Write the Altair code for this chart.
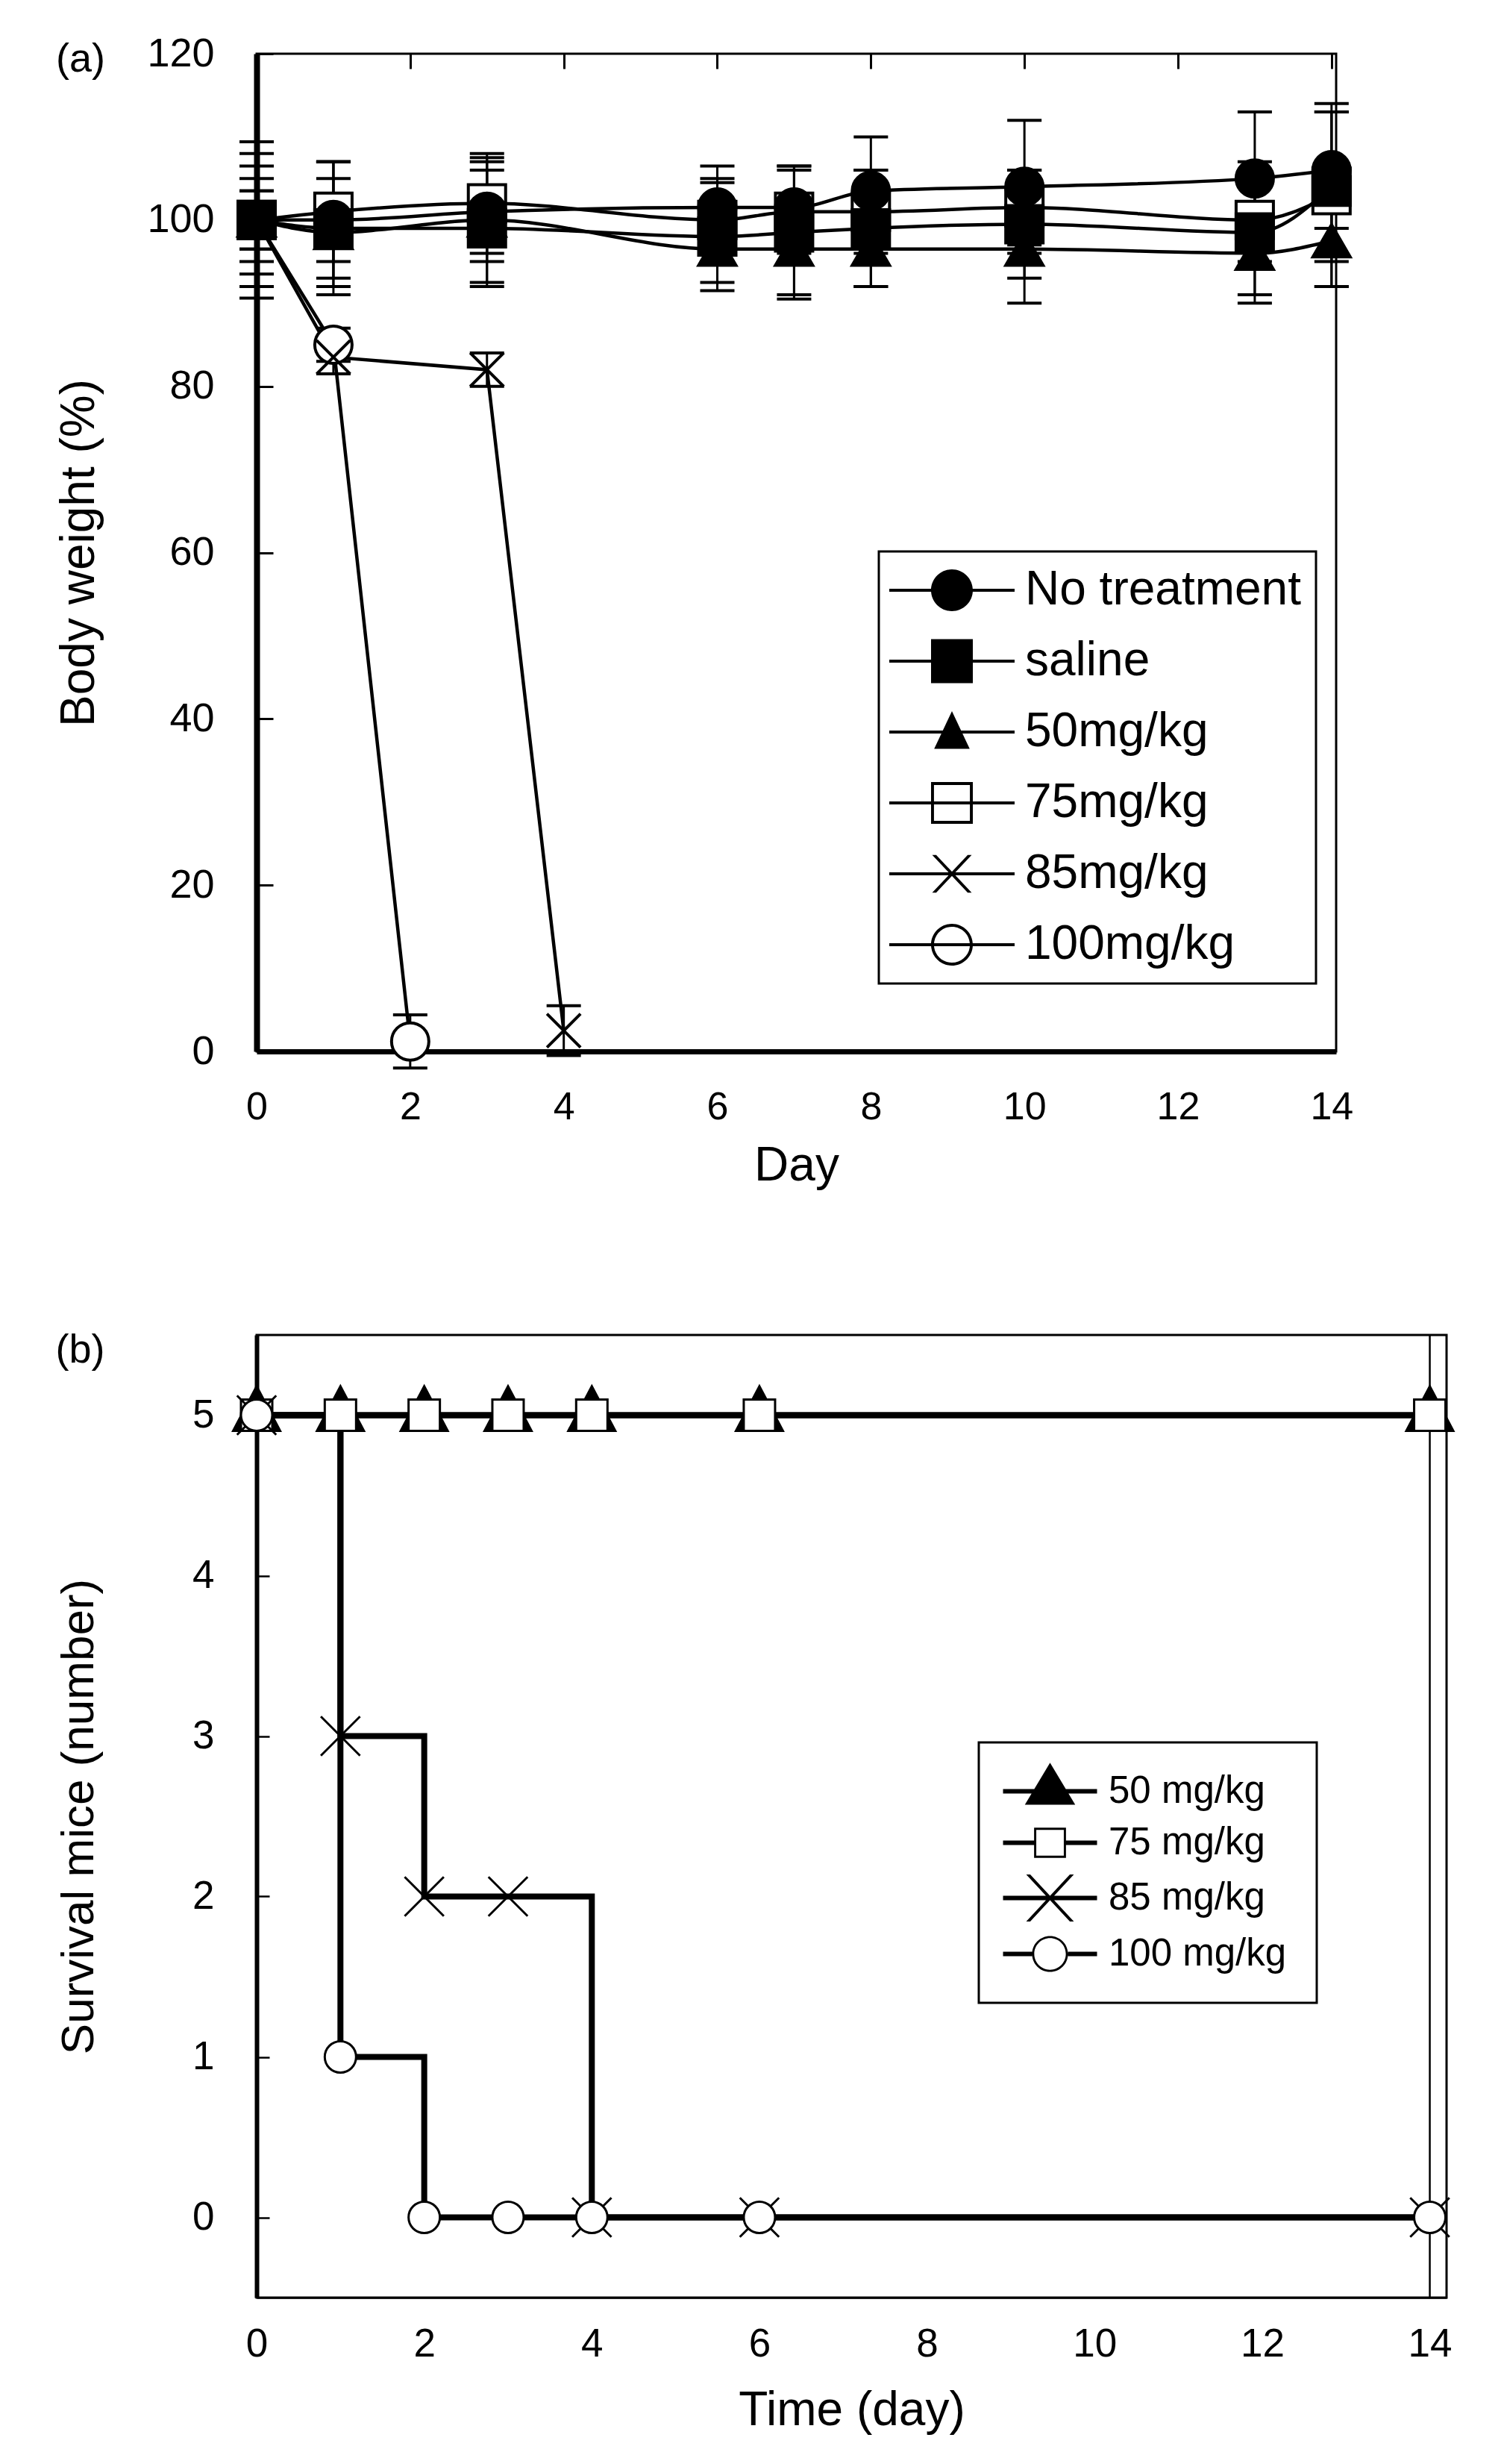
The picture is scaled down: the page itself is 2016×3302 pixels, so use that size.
import altair as alt
import pandas as pd

FONT = "Liberation Sans"

# ---------------- panel (a): body weight ----------------
series_a = ["No treatment", "saline", "50mg/kg", "75mg/kg", "85mg/kg", "100mg/kg"]
days_a = [0, 1, 3, 6, 7, 8, 10, 13, 14]
no_treat = [100, 100, 101, 101.5, 101.5, 103.5, 104, 105, 106]
no_treat_sd = [9.4, 7, 6, 5, 5, 6.5, 8, 8, 7]
saline = [100, 99, 99, 98, 98.5, 99, 99.5, 98.5, 104]
saline_sd = [8, 8, 7, 6.5, 8, 7, 6.5, 8.5, 9]
mg50 = [100, 98.5, 100, 96.5, 96.5, 96.5, 96.5, 96, 97.5]
mg50_sd = [6.5, 6.5, 7.5, 4, 5.5, 4.5, 6.5, 5, 5.5]
mg75 = [100, 101, 102, 100, 101, 101, 101.5, 100, 103]
mg75_sd = [5, 6, 6, 5, 5, 5, 4.5, 5, 11]
days_85 = [0, 1, 3, 4]
mg85 = [100, 83.5, 82, 2.5]
mg85_sd = [3.5, 2, 2, 3]
days_100 = [0, 1, 2]
mg100 = [100, 85, 1.2]
mg100_sd = [3.5, 2, 3.2]

survivors_a = ["No treatment", "saline", "50mg/kg", "75mg/kg"]
dead_a = ["85mg/kg", "100mg/kg"]
draw_order_a = ["100mg/kg", "85mg/kg", "75mg/kg", "50mg/kg", "No treatment", "saline"]
tables_a = {
    "No treatment": (days_a, no_treat, no_treat_sd),
    "saline": (days_a, saline, saline_sd),
    "50mg/kg": (days_a, mg50, mg50_sd),
    "75mg/kg": (days_a, mg75, mg75_sd),
    "85mg/kg": (days_85, mg85, mg85_sd),
    "100mg/kg": (days_100, mg100, mg100_sd),
}
rows = []
for s in draw_order_a:
    d, v, e = tables_a[s]
    for di, vi, ei in zip(d, v, e):
        rows.append({"series": s, "day": di, "weight": vi, "lo": vi - ei, "hi": vi + ei})
df_a = pd.DataFrame(rows)

X_PATH_A = "M-0.9,-0.9L0.9,0.9M-0.9,0.9L0.9,-0.9"
shapes_a = ["circle", "square", "triangle-up", "square", X_PATH_A, "circle"]
fills_a = ["black", "black", "black", "white", "white", "white"]

# legend glyphs: line + marker, drawn as filled outlines (nonzero winding makes the holes)
BAR_A = "M-3,-0.07H3V0.07H-3Z"
legend_paths_a = [
    BAR_A + "M-1,0A1,1 0 1,1 1,0A1,1 0 1,1 -1,0Z",
    BAR_A + "M-1,-1.05H1V1.05H-1Z",
    BAR_A + "M0,-1L0.85,0.8H-0.85Z",
    BAR_A + "M-1,-1H1V1H-1ZM-0.86,-0.86V0.86H0.86V-0.86Z",
    BAR_A + "M-0.945,-0.9H-0.755L0.945,0.9H0.755ZM-0.945,0.9L0.755,-0.9H0.945L-0.755,0.9Z",
    BAR_A + "M-1,0A1,1 0 1,1 1,0A1,1 0 1,1 -1,0ZM-0.86,0A0.86,0.86 0 1,0 0.86,0A0.86,0.86 0 1,0 -0.86,0Z",
]
legend_fill_a = ["black"] * 6

axis_xa = alt.Axis(values=list(range(0, 15, 2)), ticks=False, tickSize=0, grid=True,
                   gridDash=[20, 5000], gridColor="black", gridWidth=3, gridOpacity=1,
                   domainColor="black", domainWidth=7, labelFontSize=52, labelPadding=49,
                   labelFlush=False, labelOverlap=False, titleFontSize=64, titlePadding=21)
axis_ya = alt.Axis(values=list(range(0, 121, 20)), ticks=False, tickSize=0, grid=True,
                   gridDash=[22, 5000], gridColor="black", gridWidth=3, gridOpacity=1,
                   domainColor="black", domainWidth=8, labelFontSize=54, labelPadding=57,
                   labelOverlap=False, titleFontSize=64, titlePadding=58)
xs_a = alt.Scale(domain=[0, 14.06], nice=False, zero=False)
ys_a = alt.Scale(domain=[0, 120], nice=False)


def xa(field="day"):
    return alt.X(f"{field}:Q", scale=xs_a, axis=axis_xa, title="Day")


def ya(field):
    return alt.Y(f"{field}:Q", scale=ys_a, axis=axis_ya, title="Body weight (%)")


base_a = alt.Chart(df_a)
lines_smooth = base_a.transform_filter(alt.FieldOneOfPredicate(field="series", oneOf=survivors_a)).mark_line(
    interpolate="monotone", strokeWidth=4.5, color="black").encode(x=xa(), y=ya("weight"), detail="series:N")
lines_lin = base_a.transform_filter(alt.FieldOneOfPredicate(field="series", oneOf=dead_a)).mark_line(
    strokeWidth=4.5, color="black").encode(x=xa(), y=ya("weight"), detail="series:N")
stems = base_a.mark_rule(strokeWidth=3, color="black").encode(x=xa(), y=ya("lo"), y2="hi:Q")
caps_lo = base_a.mark_tick(orient="horizontal", size=46, thickness=4, color="black", opacity=1).encode(
    x=xa(), y=ya("lo"))
caps_hi = base_a.mark_tick(orient="horizontal", size=46, thickness=4, color="black", opacity=1).encode(
    x=xa(), y=ya("hi"))
points_a = base_a.mark_point(filled=True, stroke="black", strokeWidth=4, opacity=1, size=2500).encode(
    x=xa(), y=ya("weight"),
    shape=alt.Shape("series:N", scale=alt.Scale(domain=series_a, range=shapes_a), legend=None),
    fill=alt.Fill("series:N", scale=alt.Scale(domain=series_a, range=fills_a), legend=None),
)
legend_a = alt.Legend(title=None, orient="none", legendX=834, legendY=667, direction="vertical",
                      padding=20, rowPadding=31, labelFontSize=64, labelFont=FONT, labelColor="black",
                      symbolSize=3136, symbolStrokeWidth=0,
                      symbolOffset=46, labelOffset=66, labelLimit=1000,
                      strokeColor="black", fillColor="white")
leg_layer_a = alt.Chart(pd.DataFrame({"series": series_a})).transform_filter("false").mark_point(
    filled=True, strokeWidth=0, opacity=1).encode(
    shape=alt.Shape("series:N", scale=alt.Scale(domain=series_a, range=legend_paths_a), legend=legend_a),
    fill=alt.Fill("series:N", scale=alt.Scale(domain=series_a, range=legend_fill_a), legend=legend_a),
)

panel_a = alt.layer(lines_smooth, lines_lin, stems, caps_lo, caps_hi, points_a, leg_layer_a).resolve_scale(
    shape="independent", fill="independent").properties(
    width=1447, height=1337,
    title=alt.TitleParams("(a)", anchor="start", frame="bounds", offset=-62, fontSize=54,
                          fontWeight="normal", font=FONT, color="black"))

# ---------------- panel (b): survival ----------------
series_b = ["50 mg/kg", "75 mg/kg", "85 mg/kg", "100 mg/kg"]
days_b = [0, 1, 2, 3, 4, 6, 14]
surv_50 = [5, 5, 5, 5, 5, 5, 5]
surv_75 = [5, 5, 5, 5, 5, 5, 5]
surv_85 = [5, 3, 2, 2, 0, 0, 0]
surv_100 = [5, 1, 0, 0, 0, 0, 0]
censor_day = [14]

rows_b = []
for s, vals in zip(series_b, [surv_50, surv_75, surv_85, surv_100]):
    for di, vi in zip(days_b, vals):
        rows_b.append({"series": s, "day": di, "mice": vi})
df_b = pd.DataFrame(rows_b)

shapes_b = [
    "M0,-1.85L1.5,1H-1.5Z",
    "M-1,-1H1V1H-1Z",
    "M-1.25,-1.25L1.25,1.25M-1.25,1.25L1.25,-1.25",
    "M-1,0A1,1 0 1,1 1,0A1,1 0 1,1 -1,0Z",
]
fills_b = ["black", "white", "white", "white"]
BAR_B = "M-2.8,-0.13H2.8V0.13H-2.8Z"
BAR_B_L = "M-2.8,-0.13H-0.95V0.13H-2.8ZM0.95,-0.13H2.8V0.13H0.95Z"
BAR_B_C = "M-2.8,-0.13H-1.07V0.13H-2.8ZM1.07,-0.13H2.8V0.13H1.07Z"
legend_paths_b = [
    BAR_B + "M0,-1.7L1.5,0.8H-1.5Z",
    BAR_B_L + "M-0.95,-0.9H0.95V0.9H-0.95ZM-0.82,-0.77V0.77H0.82V-0.77Z",
    BAR_B + "M-1.42,-1.4H-1.18L1.42,1.4H1.18ZM-1.42,1.4L1.18,-1.4H1.42L-1.18,1.4Z",
    BAR_B_C + "M-1.07,0A1.07,1.07 0 1,1 1.07,0A1.07,1.07 0 1,1 -1.07,0Z"
    + "M-0.94,0A0.94,0.94 0 1,0 0.94,0A0.94,0.94 0 1,0 -0.94,0Z",
]
legend_fill_b = ["black"] * 4

axis_xb = alt.Axis(values=list(range(0, 15, 2)), ticks=False, tickSize=0, grid=False,
                   domainColor="black", domainWidth=2.5, labelFontSize=53, labelPadding=36,
                   labelFlush=False, labelOverlap=False, titleFontSize=64, titlePadding=30)
axis_yb = alt.Axis(values=[0, 1, 2, 3, 4, 5], ticks=False, tickSize=0, grid=True,
                   gridDash=[17, 5000], gridColor="black", gridWidth=2.5, gridOpacity=1,
                   domainColor="black", domainWidth=6, labelFontSize=53, labelPadding=57,
                   labelOverlap=False, titleFontSize=62, titlePadding=120)
xs_b = alt.Scale(domain=[0, 14.2], nice=False, zero=False)
ys_b = alt.Scale(domain=[-0.5, 5.5], nice=False, zero=False)
xb = alt.X("day:Q", scale=xs_b, axis=axis_xb, title="Time (day)")
yb = alt.Y("mice:Q", scale=ys_b, axis=axis_yb, title="Survival mice (number)")

base_b = alt.Chart(df_b)
end_rule = alt.Chart(pd.DataFrame({"day": censor_day})).mark_rule(strokeWidth=2.5, color="black").encode(x=xb)
lines_b = base_b.mark_line(interpolate="step-after", strokeWidth=8, color="black").encode(
    x=xb, y=yb, detail="series:N")
points_b = base_b.mark_point(filled=True, stroke="black", strokeWidth=3, opacity=1, size=1764).encode(
    x=xb, y=yb,
    shape=alt.Shape("series:N", scale=alt.Scale(domain=series_b, range=shapes_b), legend=None),
    fill=alt.Fill("series:N", scale=alt.Scale(domain=series_b, range=fills_b), legend=None),
)
legend_b = alt.Legend(title=None, orient="none", legendX=968, legendY=546, direction="vertical",
                      padding=40, rowPadding=17, labelFontSize=51, labelFont=FONT, labelColor="black",
                      symbolSize=2025, symbolStrokeWidth=0,
                      symbolOffset=30, labelOffset=53, labelLimit=1000,
                      strokeColor="black", fillColor="white")
leg_layer_b = alt.Chart(pd.DataFrame({"series": series_b})).transform_filter("false").mark_point(
    filled=True, strokeWidth=0, opacity=1).encode(
    shape=alt.Shape("series:N", scale=alt.Scale(domain=series_b, range=legend_paths_b), legend=legend_b),
    fill=alt.Fill("series:N", scale=alt.Scale(domain=series_b, range=legend_fill_b), legend=legend_b),
)

panel_b = alt.layer(end_rule, lines_b, points_b, leg_layer_b).resolve_scale(
    shape="independent", fill="independent").properties(
    width=1595, height=1290,
    title=alt.TitleParams("(b)", anchor="start", frame="bounds", offset=-49, fontSize=54,
                          fontWeight="normal", font=FONT, color="black"))

chart = alt.vconcat(panel_a, panel_b, spacing=185).properties(
    padding={"left": 65, "top": 35, "right": 5, "bottom": 5},
    background="white",
).configure_view(stroke="black", strokeWidth=3).configure_axis(
    labelFont=FONT, titleFont=FONT, labelColor="black", titleColor="black", titleFontWeight="normal"
).configure_legend(strokeWidth=3).configure_title(font=FONT, fontWeight="normal", color="black")

chart.save("out.html", embed_options={"renderer": "svg", "actions": False})
